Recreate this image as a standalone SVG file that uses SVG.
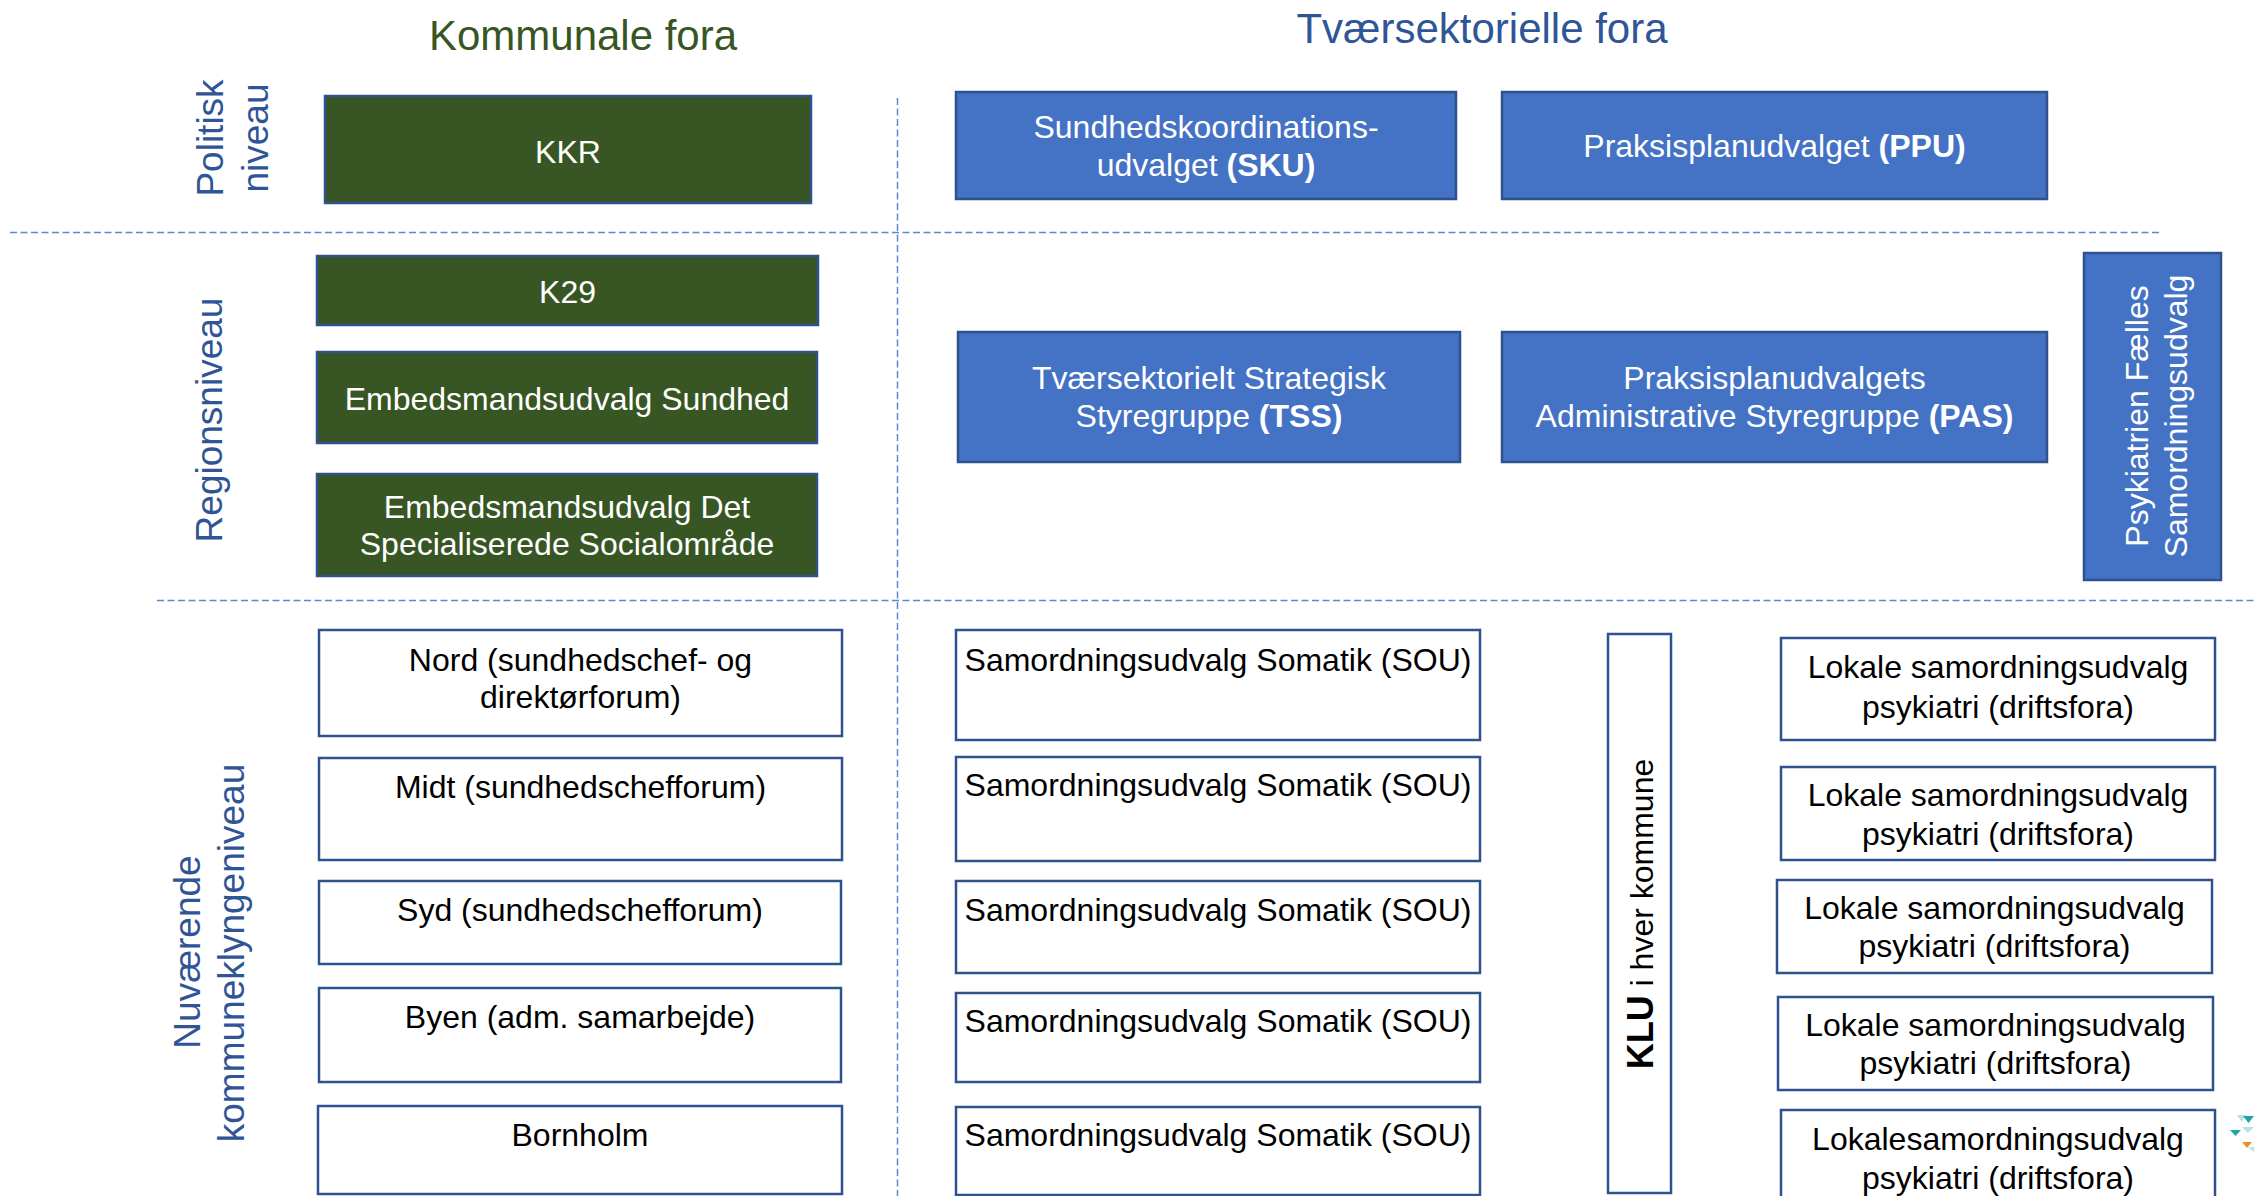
<svg xmlns="http://www.w3.org/2000/svg" width="2254" height="1196" viewBox="0 0 2254 1196">
<style>
text { font-family: "Liberation Sans", Arial, sans-serif; }
.g rect { fill:#375623; stroke:#2F528F; stroke-width:2.5; }
.b rect { fill:#4472C4; stroke:#2F528F; stroke-width:2.5; }
.w rect { fill:#FFFFFF; stroke:#2F528F; stroke-width:2.5; }
.lbl { font-size:32px; text-anchor:middle; }
.g text, .b text { fill:#FFFFFF; }
.w text { fill:#000000; }
.side { font-size:37px; fill:#2F5597; text-anchor:middle; }
.title { font-size:42px; text-anchor:middle; }
.dash { stroke:#5B86D0; stroke-width:1.5; stroke-dasharray:7 3.5; fill:none; }
.bold { font-weight:bold; }
</style>
<rect x="0" y="0" width="2254" height="1196" fill="#FFFFFF"/>

<g id="titles">
<text class="title" x="583" y="50" fill="#375623">Kommunale fora</text>
<text class="title" x="1482" y="43" fill="#2F5597">Tværsektorielle fora</text>
</g>

<g id="level-labels">
<text class="side" transform="translate(223,138) rotate(-90)">Politisk</text>
<text class="side" transform="translate(268,138) rotate(-90)">niveau</text>
<text class="side" transform="translate(222,420) rotate(-90)">Regionsniveau</text>
<text class="side" transform="translate(200,952) rotate(-90)">Nuværende</text>
<text class="side" transform="translate(244,953) rotate(-90)">kommuneklyngeniveau</text>
</g>

<g id="connectors">
<line class="dash" x1="10" y1="232.5" x2="2160" y2="232.5"/>
<line class="dash" x1="157" y1="600.5" x2="2254" y2="600.5"/>
<line class="dash" x1="897.5" y1="98" x2="897.5" y2="1196"/>
</g>

<g id="kkr" class="g"><rect x="325" y="96" width="486" height="107"/><text class="lbl" x="568" y="163">KKR</text></g>
<g id="k29" class="g"><rect x="317" y="256" width="501" height="69"/><text class="lbl" x="567.5" y="303">K29</text></g>
<g id="emb-sundhed" class="g"><rect x="317" y="352" width="500" height="91"/><text class="lbl" x="567" y="409.5">Embedsmandsudvalg Sundhed</text></g>
<g id="emb-social" class="g"><rect x="317" y="474" width="500" height="102"/><text class="lbl" x="567" y="517.5">Embedsmandsudvalg Det</text><text class="lbl" x="567" y="554.5">Specialiserede Socialområde</text></g>

<g id="sku" class="b"><rect x="956" y="92" width="500" height="107"/><text class="lbl" x="1206" y="138">Sundhedskoordinations-</text><text class="lbl" x="1206" y="176">udvalget <tspan class="bold">(SKU)</tspan></text></g>
<g id="ppu" class="b"><rect x="1502" y="92" width="545" height="107"/><text class="lbl" x="1774.5" y="157">Praksisplanudvalget <tspan class="bold">(PPU)</tspan></text></g>
<g id="tss" class="b"><rect x="958" y="332" width="502" height="130"/><text class="lbl" x="1209" y="388.5">Tværsektorielt Strategisk</text><text class="lbl" x="1209" y="427">Styregruppe <tspan class="bold">(TSS)</tspan></text></g>
<g id="pas" class="b"><rect x="1502" y="332" width="545" height="130"/><text class="lbl" x="1774.5" y="388.5">Praksisplanudvalgets</text><text class="lbl" x="1774.5" y="427">Administrative Styregruppe <tspan class="bold">(PAS)</tspan></text></g>
<g id="psyk" class="b"><rect x="2084" y="253" width="137" height="327"/><text class="lbl" transform="translate(2148,416) rotate(-90)">Psykiatrien Fælles</text><text class="lbl" transform="translate(2187,416) rotate(-90)">Samordningsudvalg</text></g>

<g id="nord" class="w"><rect x="319" y="630" width="523" height="106"/><text class="lbl" x="580.5" y="670.5">Nord (sundhedschef- og</text><text class="lbl" x="580.5" y="708">direktørforum)</text></g>
<g id="midt" class="w"><rect x="319" y="758" width="523" height="102"/><text class="lbl" x="580.5" y="798">Midt (sundhedschefforum)</text></g>
<g id="syd" class="w"><rect x="319" y="881" width="522" height="83"/><text class="lbl" x="580" y="921">Syd (sundhedschefforum)</text></g>
<g id="byen" class="w"><rect x="319" y="988" width="522" height="94"/><text class="lbl" x="580" y="1028">Byen (adm. samarbejde)</text></g>
<g id="bornholm" class="w"><rect x="318" y="1106" width="524" height="88"/><text class="lbl" x="580" y="1146">Bornholm</text></g>

<g id="sou1" class="w"><rect x="956" y="630" width="524" height="110"/><text class="lbl" x="1218" y="670.5">Samordningsudvalg Somatik (SOU)</text></g>
<g id="sou2" class="w"><rect x="956" y="757" width="524" height="104"/><text class="lbl" x="1218" y="796">Samordningsudvalg Somatik (SOU)</text></g>
<g id="sou3" class="w"><rect x="956" y="881" width="524" height="92"/><text class="lbl" x="1218" y="921">Samordningsudvalg Somatik (SOU)</text></g>
<g id="sou4" class="w"><rect x="956" y="993" width="524" height="89"/><text class="lbl" x="1218" y="1032">Samordningsudvalg Somatik (SOU)</text></g>
<g id="sou5" class="w"><rect x="956" y="1107" width="524" height="88"/><text class="lbl" x="1218" y="1146">Samordningsudvalg Somatik (SOU)</text></g>

<g id="klu" class="w"><rect x="1608" y="634" width="63" height="559"/><text class="lbl" transform="translate(1653,914) rotate(-90)"><tspan class="bold" font-size="36">KLU</tspan> i hver kommune</text></g>

<g id="lokale1" class="w"><rect x="1781" y="638" width="434" height="102"/><text class="lbl" x="1998" y="678">Lokale samordningsudvalg</text><text class="lbl" x="1998" y="717.5">psykiatri (driftsfora)</text></g>
<g id="lokale2" class="w"><rect x="1781" y="767" width="434" height="93"/><text class="lbl" x="1998" y="806">Lokale samordningsudvalg</text><text class="lbl" x="1998" y="845">psykiatri (driftsfora)</text></g>
<g id="lokale3" class="w"><rect x="1777" y="880" width="435" height="93"/><text class="lbl" x="1994.5" y="918.5">Lokale samordningsudvalg</text><text class="lbl" x="1994.5" y="957">psykiatri (driftsfora)</text></g>
<g id="lokale4" class="w"><rect x="1778" y="997" width="435" height="93"/><text class="lbl" x="1995.5" y="1036">Lokale samordningsudvalg</text><text class="lbl" x="1995.5" y="1074">psykiatri (driftsfora)</text></g>
<g id="lokale5" class="w"><rect x="1781" y="1110" width="434" height="92"/><text class="lbl" x="1998" y="1150">Lokalesamordningsudvalg</text><text class="lbl" x="1998" y="1189">psykiatri (driftsfora)</text></g>

<g id="logo-fragment">
<polygon points="2237,1115 2246,1115 2241.5,1122" fill="#B9E3E0"/>
<polygon points="2243,1116 2254,1116 2248.5,1123" fill="#1FA6A4"/>
<polygon points="2230,1130 2241,1130 2235.5,1136" fill="#1FA6A4"/>
<polygon points="2242,1127 2254,1127 2248,1133" fill="#B9E3E0"/>
<polygon points="2242,1142 2252,1142 2247,1148" fill="#F28C28"/>
<polygon points="2248,1147 2254,1147 2254,1152" fill="#B9E3E0"/>
</g>
</svg>
